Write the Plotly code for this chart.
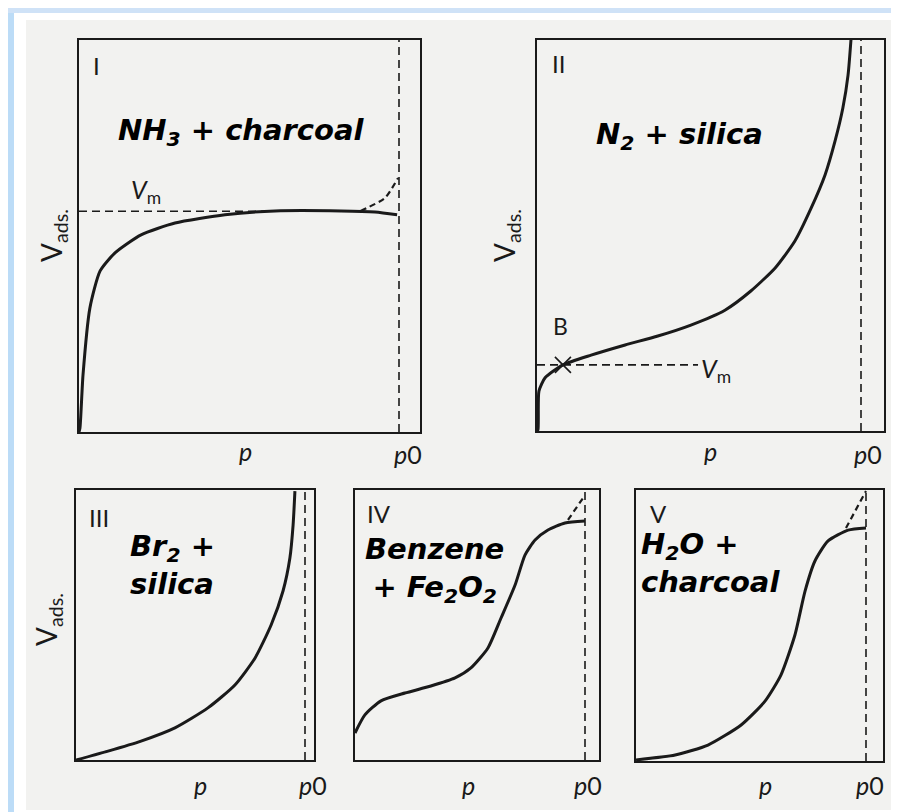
import plotly.graph_objects as go

# ---------------- data (normalised: p/p0 on x, V/Vbox on y) ----------------
I_x = [0.0, 0.003, 0.0125, 0.034, 0.066, 0.1125, 0.194, 0.30, 0.456, 0.6125, 0.819, 0.925, 0.994]
I_y = [0.0, 0.010, 0.145, 0.316, 0.411, 0.457, 0.503, 0.533, 0.554, 0.564, 0.564, 0.561, 0.554]
I_tip_x = [0.88, 0.956, 0.997]
I_tip_y = [0.564, 0.597, 0.648]
I_vm = 0.563
I_vm_end = 0.60

II_x = [0.0, 0.003, 0.006, 0.025, 0.080, 0.167, 0.272, 0.373, 0.475, 0.580, 0.660, 0.735,
        0.796, 0.846, 0.889, 0.920, 0.944, 0.960, 0.969]
II_y = [0.0, 0.003, 0.102, 0.136, 0.169, 0.194, 0.220, 0.243, 0.271, 0.309, 0.358, 0.417,
        0.486, 0.570, 0.655, 0.742, 0.826, 0.910, 1.0]
II_B = (0.080, 0.169)
II_vm_end = 0.497

III_x = [0.0, 0.14, 0.284, 0.432, 0.576, 0.694, 0.782, 0.852, 0.904, 0.934, 0.948, 0.956]
III_y = [0.0, 0.033, 0.070, 0.119, 0.193, 0.278, 0.378, 0.500, 0.626, 0.748, 0.870, 0.996]

IV_x = [0.0, 0.043, 0.113, 0.217, 0.330, 0.435, 0.504, 0.578, 0.635, 0.696, 0.739, 0.783,
        0.839, 0.913, 1.0]
IV_y = [0.10, 0.167, 0.219, 0.248, 0.274, 0.304, 0.341, 0.415, 0.526, 0.648, 0.759, 0.815,
        0.852, 0.878, 0.885]
IV_tip_x = [0.926, 1.0]
IV_tip_y = [0.889, 0.981]

V_x = [0.0, 0.17, 0.313, 0.457, 0.561, 0.630, 0.691, 0.735, 0.778, 0.835, 0.922, 1.0]
V_y = [0.004, 0.022, 0.059, 0.133, 0.221, 0.317, 0.465, 0.627, 0.738, 0.812, 0.852, 0.860]
V_tip_x = [0.913, 1.0]
V_tip_y = [0.86, 0.996]

# ---------------- layout constants ----------------
W, H = 899, 812
# panel boxes in pixels: left, top, right, bottom, p0 dashed x
BOXES = {
    1: (71, 32, 412, 424, 391),
    2: (529, 32, 876, 423, 853),
    3: (68, 482, 306, 752, 297),
    4: (347, 482, 591, 752, 577),
    5: (628, 482, 875, 753, 858),
}

INK = "#1a1a1a"
CURVE_W = 3
DASH = "8px,5px"


def px(x, y):
    return x / W, 1 - y / H


fig = go.Figure()
layout = dict(
    width=W, height=H, margin=dict(l=0, r=0, t=0, b=0),
    paper_bgcolor="white", plot_bgcolor="rgba(0,0,0,0)",
    showlegend=False,
)

for k, (l, t, r, b, d) in BOXES.items():
    xmax = (r - l) / (d - l)
    sx = "" if k == 1 else str(k)
    ax = dict(domain=[l / W, r / W], range=[0, xmax], showgrid=False, zeroline=False,
              showticklabels=False, ticks="", showline=True, mirror=True,
              linecolor=INK, linewidth=2.2, fixedrange=True)
    ay = dict(domain=[1 - b / H, 1 - t / H], range=[0, 1], showgrid=False, zeroline=False,
              showticklabels=False, ticks="", showline=True, mirror=True,
              linecolor=INK, linewidth=2.2, fixedrange=True)
    ax["anchor"] = "y" + sx
    ay["anchor"] = "x" + sx
    layout["xaxis" + sx] = ax
    layout["yaxis" + sx] = ay


def ref(k):
    return ("x", "y") if k == 1 else ("x%d" % k, "y%d" % k)


def add_line(k, xs, ys, dash=None, width=CURVE_W, shape="spline"):
    xr, yr = ref(k)
    fig.add_trace(go.Scatter(
        x=xs, y=ys, mode="lines", xaxis=xr, yaxis=yr, hoverinfo="skip",
        line=dict(color=INK, width=width, dash=dash, shape=shape, smoothing=0.6),
        cliponaxis=True))


# p0 dashed verticals
for k in BOXES:
    add_line(k, [1, 1], [0, 1], dash=DASH, width=1.6, shape="linear")

# Panel I
add_line(1, I_x, I_y)
add_line(1, I_tip_x, I_tip_y, dash="6px,4px", width=2.2)
add_line(1, [0, I_vm_end], [I_vm, I_vm], dash=DASH, width=1.6, shape="linear")
# Panel II
add_line(2, II_x, II_y)
add_line(2, [0, II_vm_end], [II_B[1], II_B[1]], dash=DASH, width=1.6, shape="linear")
fig.add_trace(go.Scatter(x=[II_B[0]], y=[II_B[1]], mode="markers", xaxis="x2", yaxis="y2",
                         hoverinfo="skip",
                         marker=dict(symbol="x-thin", size=16, line=dict(color=INK, width=1.6))))
# Panel III
add_line(3, III_x, III_y)
# Panel IV
add_line(4, IV_x, IV_y)
add_line(4, IV_tip_x, IV_tip_y, dash="6px,4px", width=2.2, shape="linear")
# Panel V
add_line(5, V_x, V_y)
add_line(5, V_tip_x, V_tip_y, dash="6px,4px", width=2.2, shape="linear")

# ---------------- text ----------------
ann = []
TITLE_FONT = dict(family="DejaVu Sans", size=29, color="black", weight="bold", style="italic")
LAB_FONT = dict(family="Lato", size=25, color=INK)


def text(s, x, y, font, xanchor="center", yanchor="middle", angle=0, align="center"):
    xp, yp = px(x, y)
    ann.append(dict(text=s, x=xp, y=yp, xref="paper", yref="paper", showarrow=False,
                    xanchor=xanchor, yanchor=yanchor, font=font, textangle=angle, align=align))


# roman numerals
for s, x, y in [("I", 88, 58), ("II", 550, 55), ("III", 91, 509), ("IV", 371, 506), ("V", 650, 506)]:
    text(s, x, y, dict(family="Lato", size=24, color=INK))

# titles
text("NH<sub>3</sub> + charcoal", 233, 124, TITLE_FONT)
text("N<sub>2</sub> + silica", 671, 128, TITLE_FONT)
text("Br<sub>2</sub> +<br>silica", 120, 557, TITLE_FONT, xanchor="left", align="left")
text("Benzene<br>+ Fe<sub>2</sub>O<sub>2</sub>", 426, 562, TITLE_FONT)
text("H<sub>2</sub>O +<br>charcoal", 631, 555, TITLE_FONT, xanchor="left", align="left")

# Vm and B
text("<i>V</i><sub>m</sub>", 138, 183, dict(family="Lato", size=25, color=INK))
text("<i>V</i><sub>m</sub>", 691, 362, dict(family="Lato", size=25, color=INK), xanchor="left")
text("B", 552, 318, dict(family="Lato", size=23, color=INK))

# axis labels
for x, y in [(45, 228), (498, 228), (40, 612)]:
    text("V<sub>ads.</sub>", x, y, dict(family="Lato", size=28, color=INK), angle=-90)
for x, y in [(237, 443), (702, 443), (192, 777), (460, 777), (757, 777)]:
    text("<i>p</i>", x, y, LAB_FONT)
for x, y in [(400, 446), (860, 446), (305, 777), (580, 777), (862, 777)]:
    text("<i>p</i>0", x, y, LAB_FONT)

layout["annotations"] = ann

# page background decoration
layout["shapes"] = [
    dict(type="rect", xref="paper", yref="paper", x0=18 / W, x1=1, y0=1 - 802 / H, y1=1 - 12 / H,
         fillcolor="#f2f2f0", line=dict(width=0), layer="below"),
    dict(type="rect", xref="paper", yref="paper", x0=0, x1=6 / W, y0=0, y1=1,
         fillcolor="#bcdcf7", line=dict(width=0), layer="below"),
    dict(type="rect", xref="paper", yref="paper", x0=0, x1=1, y0=1 - 5 / H, y1=1,
         fillcolor="#cfe2f7", line=dict(width=0), layer="below"),
]

fig.update_layout(**layout)
fig.write_html("out.html")
